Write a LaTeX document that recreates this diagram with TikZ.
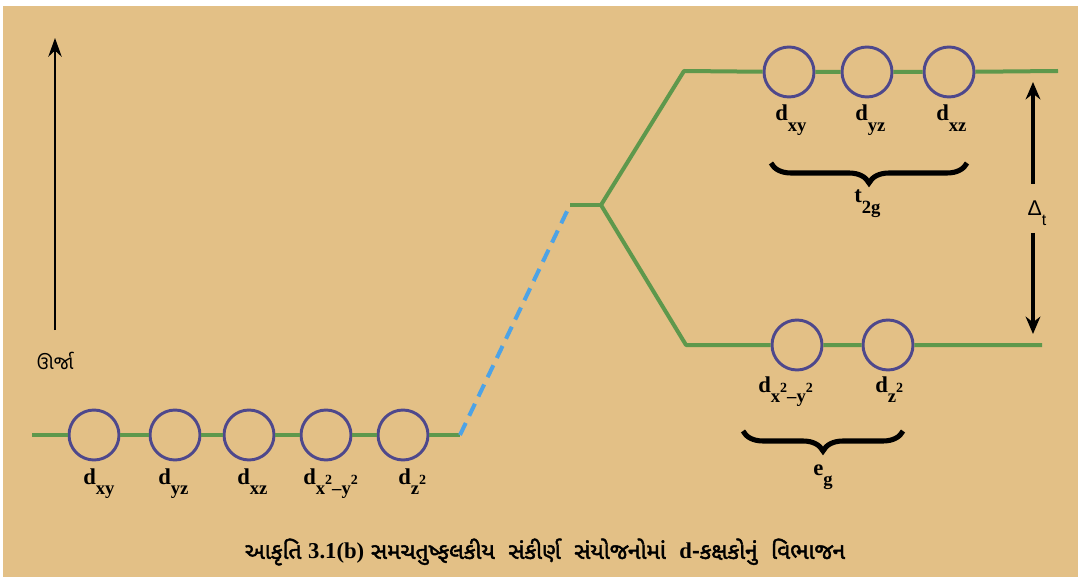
\documentclass[tikz,border=0pt]{standalone}
\usepackage{fontspec}
\usetikzlibrary{arrows.meta,decorations.pathreplacing}
\newfontfamily\gujfont[Script=Gujarati]{Noto Sans Gujarati UI}
\newfontfamily\gujbold[Script=Gujarati,FakeBold=2]{Noto Sans Gujarati UI}
\newfontfamily\deltafont{Liberation Sans}
\newfontfamily\labfont{Liberation Serif}
\definecolor{bgc}{RGB}{227,192,134}
\definecolor{levc}{RGB}{94,152,76}
\definecolor{orbc}{RGB}{78,72,140}
\definecolor{dashc}{RGB}{77,163,230}
\newcommand{\dsub}[1]{d\raisebox{-0.45em}{\fontsize{14}{16}\selectfont #1}}
\newcommand{\sqr}{\raisebox{0.5em}{\fontsize{10.5}{11}\selectfont 2}}
\tikzset{
  orb/.style={circle,draw=orbc,line width=2.2pt,minimum size=37.5pt,inner sep=0pt},
  level/.style={draw=levc,line width=3pt},
  bluedash/.style={draw=dashc,line width=3pt,dash pattern=on 10pt off 6pt},
  orblab/.style={anchor=base west,inner sep=0pt,font=\labfont\bfseries\fontsize{17}{19}\selectfont},
  bracestyle/.style={decorate,decoration={brace,mirror,amplitude=15pt},line width=3.8pt},
  dimarrow/.style={line width=3pt,-{Stealth[length=13pt,width=11pt]}},
}
\begin{document}
\begin{tikzpicture}[x=0.75pt,y=-0.75pt]
\fill[white] (0,0) rectangle (1078,577);
\fill[bgc] (3,6) rectangle (1078,577);
\useasboundingbox (0,0) rectangle (1078,577);

% energy axis
\coordinate (ebot) at (55,330);
\coordinate (etop) at (55,38);
\draw[line width=2pt,-{Stealth[length=14pt,width=10pt]}] (ebot) -- (etop);
\node[font=\gujfont\fontsize{14.5}{16}\selectfont,inner sep=0pt] (energy) at (55,361) {ઊર્જા};

% bottom (degenerate) level
\coordinate (l0) at (32,435);
\coordinate (bend) at (460,435);
\node[orb] (b1) at (94,435) {};
\node[orb] (b2) at (175,435) {};
\node[orb] (b3) at (249,435) {};
\node[orb] (b4) at (326,435) {};
\node[orb] (b5) at (403,435) {};
\draw[level] (l0) -- (b1) -- (b2) -- (b3) -- (b4) -- (b5) -- (bend);

\node[orblab] (lb1) at (83,484) {\dsub{xy}};
\node[orblab] (lb2) at (158,484) {\dsub{yz}};
\node[orblab] (lb3) at (237,484) {\dsub{xz}};
\node[orblab] (lb4) at (303,484) {\dsub{x\sqr\textendash y\sqr}};
\node[orblab] (lb5) at (398,484) {\dsub{z\sqr}};

% barycentre
\coordinate (peak) at (570,205);
\coordinate (split) at (601,205);
\draw[bluedash] (bend) -- (peak);
\draw[level] (peak) -- (split);

% upper t2g level
\coordinate (u0) at (684,71);
\coordinate (uend) at (1058,71);
\node[orb] (t1) at (789,72) {};
\node[orb] (t2) at (867,72) {};
\node[orb] (t3) at (949,72) {};
\draw[level,line join=round] (split) -- (u0) -- (t1) -- (t2) -- (t3) -- (uend);
\node[orblab] (lt1) at (775,121) {\dsub{xy}};
\node[orblab] (lt2) at (855,121) {\dsub{yz}};
\node[orblab] (lt3) at (936,121) {\dsub{xz}};
\coordinate (tbl) at (771,163);
\coordinate (tbr) at (967,163);
\draw[bracestyle] (tbl) -- (tbr);
\node[orblab] (tlab) at (854,203) {t\raisebox{-0.45em}{\fontsize{14}{16}\selectfont 2g}};

% lower eg level
\coordinate (e0) at (686,345);
\coordinate (eend) at (1042,345);
\node[orb] (g1) at (797,345) {};
\node[orb] (g2) at (888,345) {};
\draw[level,line join=round] (split) -- (e0) -- (g1) -- (g2) -- (eend);
\node[orblab] (lg1) at (758,392) {\dsub{x\sqr\textendash y\sqr}};
\node[orblab] (lg2) at (875,392) {\dsub{z\sqr}};
\coordinate (ebl) at (743,431);
\coordinate (ebr) at (903,431);
\draw[bracestyle] (ebl) -- (ebr);
\node[orblab] (elab) at (813,475) {e\raisebox{-0.45em}{\fontsize{14}{16}\selectfont g}};

% splitting energy
\coordinate (dtop) at (1033,82);
\coordinate (dtopb) at (1033,184);
\coordinate (dbot) at (1033,334);
\coordinate (dbotb) at (1033,233);
\draw[dimarrow] (dtopb) -- (dtop);
\draw[dimarrow] (dbotb) -- (dbot);
\node[font=\deltafont\fontsize{16}{18}\selectfont,inner sep=0pt] (dlab) at (1037,213) {Δ\raisebox{-0.45em}{\fontsize{12}{14}\selectfont t}};

% caption
\node[font=\gujbold\fontsize{17}{20}\selectfont,inner sep=0pt] (cap) at (545,552)
  {આકૃતિ {\labfont\bfseries 3.1(b)} સમચતુષ્ફલકીય\ \ સંકીર્ણ\ \ સંયોજનોમાં\ \ {\labfont\bfseries d}-કક્ષકોનું\ \ વિભાજન};
\end{tikzpicture}
\end{document}
